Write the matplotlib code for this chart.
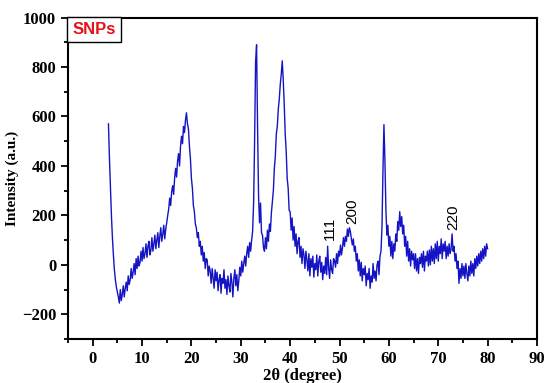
import numpy as np
import matplotlib
matplotlib.use("Agg")
import matplotlib.pyplot as plt
from matplotlib.ticker import MultipleLocator

# 2theta grid start / step (degrees) and intensity values
theta_start = 3.2
theta_step = 0.2
intensity = [
    570, 430, 310, 200, 110, 40, -20, -60, -90, -110,
    -130, -155, -100, -145, -120, -85, -130, -95, -70, -105,
    -45, -80, -60, -15, -55, -30, 5, -40, 25, -15,
    35, -5, 10, 55, 15, 70, 25, 45, 85, 30,
    75, 95, 40, 60, 110, 55, 85, 120, 65, 100,
    130, 70, 115, 150, 95, 125, 160, 105, 145, 170,
    200, 225, 270, 240, 295, 320, 285, 350, 390, 355,
    420, 450, 400, 480, 520, 490, 560, 535, 585, 615,
    570, 550, 480, 430, 350, 310, 240, 215, 165, 150,
    110, 130, 75, 95, 40, 75, 15, 50, -15, 25,
    20, -45, -5, -25, -75, -15, -55, -95, -20, -65,
    -30, -105, -60, -40, -115, -55, -75, -20, -95, -60,
    -120, -45, -85, -110, -35, -70, -130, -55, -20, -85,
    -40, -105, -65, -10, -45, 15, -30, 5, 35, -5,
    45, 75, 30, 90, 55, 100, 135, 250, 500, 820,
    890, 560, 280, 170, 250, 130, 120, 70, 55, 110,
    65, 140, 95, 165, 135, 210, 255, 300, 390, 440,
    530, 560, 630, 670, 730, 770, 825, 750, 650, 530,
    460, 350, 310, 220, 215, 140, 190, 100, 155, 75,
    125, 45, 95, 110, 30, 75, 5, 65, 40, -15,
    55, 20, -25, 45, -45, 25, -10, 35, -50, 5,
    -20, 40, -45, 15, 35, -30, 10, -60, -5, -35,
    30, -40, 75, -15, -55, 20, -20, -35, 25, 15,
    -10, 45, 5, 55, 35, 80, 40, 70, 110, 75,
    115, 95, 145, 115, 150, 135, 105, 80, 105, 55,
    75, 15, 45, -25, 20, -45, 10, -65, -15, -40,
    -5, -85, -35, -60, -15, -95, -45, -70, 5, -55,
    -25, -65, 0, 15, -40, 35, 55, 150, 380, 567,
    420, 220, 120, 160, 75, 115, 35, 95, 25, 85,
    55, 125, 95, 175, 140, 215, 155, 195, 125, 160,
    75, 115, 35, 95, 15, 65, -5, 55, 20, 45,
    -15, 45, -25, 25, -35, 30, 5, 45, -10, 55,
    -25, 35, 15, 55, -5, 60, 0, 75, 15, 65,
    5, 85, 25, 95, 15, 75, 45, 105, 25, 85,
    55, 95, 25, 75, 35, 85, 45, 65, 125, 55,
    75, 15, 45, -15, 15, -75, -15, -55, 5, -45,
    -5, -55, 5, -35, -65, -5, -45, 15, -35, 5,
    -45, 25, -15, 35, -5, 45, 5, 55, 15, 65,
    25, 75, 35, 85, 65,
]
two_theta = theta_start + theta_step * np.arange(len(intensity))

peak_labels = ["111", "200", "220"]
peak_pos = [48.0, 52.5, 73.0]
peak_y = [100, 165, 140]

fig = plt.figure(figsize=(5.46, 3.83), dpi=100)
ax = fig.add_axes([0.1245, 0.115, 0.859, 0.839])
ax.plot(two_theta, intensity, color="#1414c4", lw=1.0)

ax.set_xlim(-5, 90)
ax.set_ylim(-300, 1000)
ax.xaxis.set_major_locator(MultipleLocator(10))
ax.xaxis.set_minor_locator(MultipleLocator(5))
ax.yaxis.set_major_locator(MultipleLocator(200))
ax.yaxis.set_minor_locator(MultipleLocator(100))
ax.tick_params(which="both", direction="out", width=1.3, top=False, right=False)
ax.tick_params(which="major", length=5)
ax.tick_params(which="minor", length=3)
for s in ax.spines.values():
    s.set_linewidth(1.5)

serif = "Liberation Serif"
for lab in ax.get_xticklabels() + ax.get_yticklabels():
    lab.set_fontfamily(serif)
    lab.set_fontweight("bold")
    lab.set_fontsize(12)

ax.set_xlabel("2θ (degree)", fontfamily=serif, fontweight="bold", fontsize=12, labelpad=1)
ax.set_ylabel("Intensity (a.u.)", fontfamily=serif, fontweight="bold", fontsize=11, labelpad=2)

for lab, xp, yp in zip(peak_labels, peak_pos, peak_y):
    ax.text(xp, yp, lab, rotation=90, ha="center", va="bottom",
            fontfamily="Liberation Sans", fontsize=11)

ax.text(0.009, 0.985, "SNPs", transform=ax.transAxes, ha="left", va="top",
        color="#e8101a", fontfamily="Liberation Sans", fontweight="bold", fontsize=12,
        bbox=dict(boxstyle="square,pad=0.3", fc="white", ec="black", lw=1.0))

fig.savefig("out.png", dpi=100)
